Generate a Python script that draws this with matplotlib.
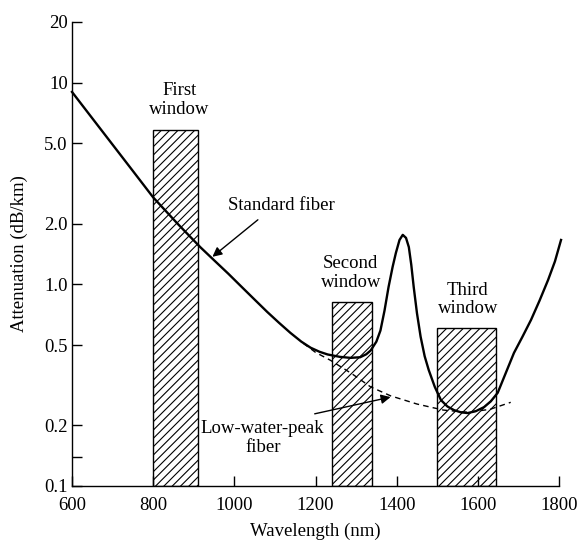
import matplotlib
matplotlib.use("Agg")
import matplotlib.pyplot as plt
import numpy as np

plt.rcParams['font.family'] = ['Liberation Serif', 'DejaVu Serif']
plt.rcParams['hatch.linewidth'] = 0.8

# standard fiber attenuation
std_nm = [600, 650, 700, 750, 800, 860, 916, 953, 985, 1015, 1050, 1081,
          1110, 1138, 1165, 1188, 1210, 1230, 1260, 1286, 1310, 1325, 1336,
          1350, 1360, 1370, 1380, 1390, 1398, 1407, 1415, 1423, 1430, 1436,
          1442, 1450, 1459, 1469, 1479, 1494, 1509, 1525, 1541, 1558, 1575,
          1595, 1615, 1632, 1649, 1668, 1689, 1710, 1731, 1752, 1773, 1790,
          1805]
std_att = [9.0, 6.66, 4.93, 3.65, 2.7, 2.0, 1.53, 1.30, 1.13, 0.985, 0.84, 0.73,
           0.645, 0.575, 0.52, 0.485, 0.463, 0.449, 0.437, 0.432, 0.435, 0.45,
           0.47, 0.52, 0.59, 0.74, 0.97, 1.22, 1.43, 1.66, 1.76,
           1.70, 1.53, 1.25, 0.97, 0.72, 0.55, 0.44, 0.376, 0.31, 0.267, 0.248,
           0.238, 0.232, 0.23, 0.235, 0.246, 0.263, 0.29, 0.36, 0.457, 0.55,
           0.666, 0.83, 1.05, 1.3, 1.66]

# low-water-peak fiber (dashed)
lwp_nm = [1170, 1200, 1237, 1290, 1336, 1385, 1450, 1515, 1575, 1630, 1681]
lwp_att = [0.51, 0.46, 0.42, 0.36, 0.31, 0.28, 0.255, 0.238, 0.232, 0.24, 0.26]

# transmission windows
win_left = [800, 1240, 1500]
win_right = [910, 1340, 1645]
win_top = [5.8, 0.82, 0.61]

xticks = [600, 800, 1000, 1200, 1400, 1600, 1800]
yticks = [0.1, 0.14, 0.2, 0.5, 1.0, 2.0, 5.0, 10, 20]
ytick_labels = ['0.1', '', '0.2', '0.5', '1.0', '2.0', '5.0', '10', '20']

fs = 13.5
fig = plt.figure(figsize=(5.79, 5.40), dpi=100)
ax = fig.add_axes([72 / 579, 54 / 540, 487 / 579, 464 / 540])

for l, r, t in zip(win_left, win_right, win_top):
    ax.bar(l, t - 0.1, bottom=0.1, width=r - l, align='edge', fill=False,
           hatch='////', edgecolor='black', linewidth=1.0)

ax.plot(std_nm, std_att, color='black', linewidth=1.7, clip_on=False,
        solid_joinstyle='round')
ax.plot(lwp_nm, lwp_att, color='black', linewidth=1.0, linestyle=(0, (4, 3)))

ax.set_yscale('log')
ax.set_xlim(600, 1800)
ax.set_ylim(0.1, 20)
ax.set_xticks(xticks)
ax.set_xticklabels([str(v) for v in xticks])
ax.set_yticks(yticks)
ax.set_yticklabels(ytick_labels)
ax.minorticks_off()
ax.tick_params(axis='both', direction='in', length=7, width=1.0, labelsize=fs)
ax.tick_params(axis='x', pad=8)
ax.tick_params(axis='y', pad=3)
for s in ['top', 'right']:
    ax.spines[s].set_visible(False)
for s in ['left', 'bottom']:
    ax.spines[s].set_linewidth(1.0)

ax.set_xlabel('Wavelength (nm)', fontsize=fs, labelpad=6)
ax.set_ylabel('Attenuation (dB/km)', fontsize=fs, labelpad=12)

ax.text(865, 8.2, 'First\nwindow', ha='center', va='center', fontsize=fs,
        linespacing=1.1)
ax.text(1287, 1.14, 'Second\nwindow', ha='center', va='center', fontsize=fs,
        linespacing=1.1)
ax.text(1575, 0.84, 'Third\nwindow', ha='center', va='center', fontsize=fs,
        linespacing=1.1)

ax.text(984, 2.45, 'Standard fiber', fontsize=fs, ha='left', va='center')
ax.annotate('', xy=(946, 1.37), xytext=(1058, 2.09),
            arrowprops=dict(arrowstyle='-|>', color='black', lw=1.0,
                            shrinkA=0, shrinkB=0, mutation_scale=14))
ax.text(1070, 0.173, 'Low-water-peak\nfiber', ha='center', va='center',
        fontsize=fs, linespacing=1.1)
ax.annotate('', xy=(1385, 0.276), xytext=(1198, 0.228),
            arrowprops=dict(arrowstyle='-|>', color='black', lw=1.0,
                            shrinkA=0, shrinkB=0, mutation_scale=14))

fig.savefig('out.png', dpi=100)
